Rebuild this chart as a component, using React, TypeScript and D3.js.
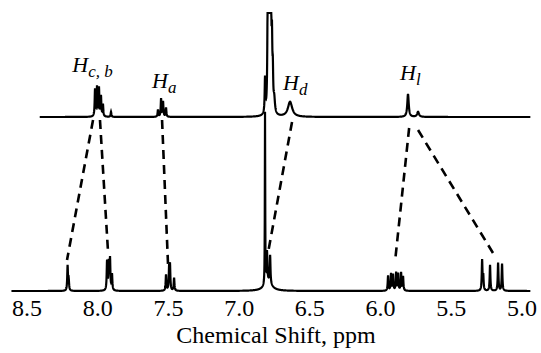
import { useEffect, useRef } from 'react'
import * as d3 from 'd3'

const W = 541
const H = 353

// chemical shift ticks (ppm)
const tickValues = [8.5, 8.0, 7.5, 7.0, 6.5, 6.0, 5.5, 5.0]

// upper spectrum lines: [ppm, height, half width]
const topPeaks: [number, number, number][] = [
  [8.019, 27, 0.003], [8.005, 29, 0.003], [7.991, 28, 0.003], [7.977, 20, 0.003], [7.963, 12, 0.003],
  [7.906, 5, 0.003],
  [7.574, 7, 0.003], [7.552, 18, 0.003], [7.538, 15, 0.003], [7.517, 9, 0.003],
  [6.817, 35, 0.003],
  [6.798, 104, 0.003], [6.792, 102, 0.003], [6.786, 100, 0.003], [6.780, 92, 0.003],
  [6.774, 78, 0.003], [6.768, 62, 0.003], [6.762, 35, 0.003], [6.752, 14, 0.006],
  [6.640, 15, 0.018],
  [5.806, 23, 0.006], [5.735, 5, 0.008],
]

// lower spectrum lines
const bottomPeaks: [number, number, number][] = [
  [8.213, 25, 0.003], [8.205, 10, 0.003],
  [7.934, 29, 0.003], [7.922, 27, 0.003], [7.913, 31, 0.003], [7.899, 16, 0.003],
  [7.517, 16, 0.003], [7.495, 22, 0.003], [7.489, 24, 0.003], [7.460, 13, 0.003],
  [6.817, 172, 0.0015], [6.803, 30, 0.003], [6.781, 28, 0.003], [6.795, 9, 0.03],
  [5.947, 15, 0.003], [5.926, 17, 0.003], [5.912, 16, 0.003], [5.890, 18, 0.003],
  [5.876, 17, 0.003], [5.855, 18, 0.003], [5.841, 14, 0.003],
  [5.282, 30, 0.003], [5.274, 14, 0.003], [5.226, 26, 0.003], [5.169, 28, 0.003], [5.141, 27, 0.003],
]

const topRange = [8.41, 4.94]
const bottomRange = [8.61, 4.94]

// dashed assignments: top ppm/level -> bottom ppm/level
const links = [
  { top: 8.033, from: -3, bottom: 8.217, to: 31 },
  { top: 7.984, from: -3, bottom: 7.927, to: 39 },
  { top: 7.545, from: -3, bottom: 7.503, to: 27 },
  { top: 6.626, from: -5, bottom: 6.796, to: 38 },
  { top: 5.798, from: -11, bottom: 5.898, to: 29 },
  { top: 5.735, from: -13, bottom: 5.205, to: 38 },
]

const labels = [
  { main: 'H', sub: 'c, b', ppm: 8.18, level: 45 },
  { main: 'H', sub: 'a', ppm: 7.616, level: 29 },
  { main: 'H', sub: 'd', ppm: 6.69, level: 27 },
  { main: 'H', sub: 'l', ppm: 5.862, level: 37 },
]

function spectrum(peaks: [number, number, number][], range: number[]) {
  const pts = d3.range(range[0], range[1], -0.001)
  return pts.map((p) => {
    let v = 0
    for (const [c, h, w] of peaks) v += (h * w * w) / ((p - c) * (p - c) + w * w)
    return [p, v] as [number, number]
  })
}

export default function App() {
  const svgRef = useRef<SVGSVGElement>(null)

  useEffect(() => {
    const x = d3.scaleLinear().domain([8.5, 5.0]).range([27, 522])
    const yTop = d3.scaleLinear().domain([0, 100]).range([117, 17])
    const yBot = d3.scaleLinear().domain([0, 100]).range([291, 191])
    const font = 'Liberation Serif'

    const svg = d3.select(svgRef.current)
    svg.selectAll('*').remove()

    const topLine = d3.line<[number, number]>().x((d) => x(d[0])).y((d) => Math.max(yTop(d[1]), 13))
    const botLine = d3.line<[number, number]>().x((d) => x(d[0])).y((d) => yBot(d[1]))

    svg.append('path').attr('d', botLine(spectrum(bottomPeaks, bottomRange)))
      .attr('fill', 'none').attr('stroke', '#000').attr('stroke-width', 2.2)
    svg.append('path').attr('d', topLine(spectrum(topPeaks, topRange)))
      .attr('fill', 'none').attr('stroke', '#000').attr('stroke-width', 2.2)

    svg.append('g').selectAll('line').data(links).join('line')
      .attr('x1', (d) => x(d.top)).attr('y1', (d) => yTop(d.from))
      .attr('x2', (d) => x(d.bottom)).attr('y2', (d) => yBot(d.to))
      .attr('stroke', '#000').attr('stroke-width', 2.6).attr('stroke-dasharray', '9,6')

    const lab = svg.append('g').selectAll('text').data(labels).join('text')
      .attr('x', (d) => x(d.ppm)).attr('y', (d) => yTop(d.level))
      .style('font-family', font).style('font-style', 'italic').style('font-size', '22px')
      .text((d) => d.main)
    lab.append('tspan').attr('dy', 5).style('font-size', '17px').text((d) => d.sub)

    svg.append('g').selectAll('text').data(tickValues).join('text')
      .attr('x', (d) => x(d)).attr('y', 316).attr('text-anchor', 'middle')
      .style('font-family', font).style('font-size', '24px')
      .text((d) => d3.format('.1f')(d))

    svg.append('text').attr('x', 276).attr('y', 343).attr('text-anchor', 'middle')
      .style('font-family', font).style('font-size', '24px')
      .text('Chemical Shift, ppm')
  }, [])

  return (
    <svg ref={svgRef} width={W} height={H} style={{ position: 'fixed', left: 0, top: 0, background: '#fff' }} />
  )
}
